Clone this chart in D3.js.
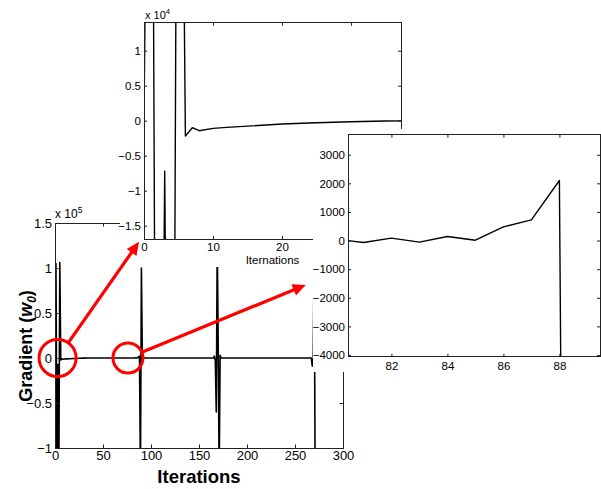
<!DOCTYPE html>
<html>
<head>
<meta charset="utf-8">
<script src="https://cdn.jsdelivr.net/npm/d3@7"></script>
<style>
body { margin: 0; background: #fff; }
svg { display: block; font-family: "Liberation Sans", Arial, Helvetica, sans-serif; }
</style>
</head>
<body>
<svg id="chart" width="601" height="489"></svg>
<script>
// gradient of w0 per iteration
const iterations = [0, 1, 2, 3, 4, 5, 6, 7, 8, 10, 12, 15, 20, 25, 30, 35, 40, 60, 80,
    81, 82, 83, 84, 85, 86, 87, 88, 89, 90, 91, 92, 93, 120, 150,
    165, 166, 167, 168, 169, 170, 171, 172, 173, 200, 240,
    267, 268, 269, 270, 271];
const gradient = [0, 105000, -128000, -7200, -130000, 106000, -2200, -1000, -1430, -1100, -950, -780, -480, -300, -150, -50, 0, 30, 50,
    -70, 84, -56, 140, 12, 480, 724, 2100, -130000, 100000, -2000, 500, 0, 0, 0,
    0, 2000, -3000, -60000, 130000, 15000, -130000, 3000, 0, 0, 0,
    0, -9000, 0, 120000, -140000];

const mainXTicks = [0, 50, 100, 150, 200, 250, 300];
const mainYTicks = [-1e5, -0.5e5, 0, 0.5e5, 1e5, 1.5e5];
const zoomAXTicks = [0, 10, 20, 30];
const zoomAYTicks = [-1.5e4, -1e4, -0.5e4, 0, 0.5e4, 1e4];
const zoomBXTicks = [82, 84, 86, 88];
const zoomBYTicks = [-4000, -3000, -2000, -1000, 0, 1000, 2000, 3000];

const points = iterations.map((t, i) => [t, gradient[i]]);

const svg = d3.select("#chart");
svg.append("rect").attr("width", 601).attr("height", 489).attr("fill", "#fff");

function panel(o) {
    const g = svg.append("g");
    if (o.cover) {
        g.append("rect")
            .attr("x", o.cover[0]).attr("y", o.cover[1])
            .attr("width", o.cover[2]).attr("height", o.cover[3])
            .attr("fill", "#fff");
    }
    const x = d3.scaleLinear().domain(o.xDomain).range([o.box.left, o.box.right]);
    const y = d3.scaleLinear().domain(o.yDomain).range([o.box.bottom, o.box.top]);

    g.append("clipPath").attr("id", o.id).append("rect")
        .attr("x", o.box.left).attr("y", o.box.top)
        .attr("width", o.box.right - o.box.left).attr("height", o.box.bottom - o.box.top);

    g.append("path")
        .datum(points)
        .attr("clip-path", "url(#" + o.id + ")")
        .attr("fill", "none")
        .attr("stroke", "#000")
        .attr("stroke-width", o.lineWidth)
        .attr("stroke-linejoin", "round")
        .attr("d", d3.line().x(d => x(d[0])).y(d => y(d[1])));

    const addAxis = (axis, tr) => g.append("g")
        .attr("transform", tr)
        .call(axis)
        .attr("font-family", null)
        .attr("font-size", o.fontSize)
        .call(s => s.select(".domain").remove())
        .call(s => s.selectAll("line").attr("stroke", "#222"))
        .call(s => s.selectAll("text").attr("fill", "#000"));

    addAxis(d3.axisBottom(x).tickValues(o.xTicks).tickSize(-o.tick).tickPadding(o.xPad),
        "translate(0," + o.box.bottom + ")");
    addAxis(d3.axisTop(x).tickValues(o.xTicks).tickSize(-o.tick).tickFormat(""),
        "translate(0," + o.box.top + ")");
    addAxis(d3.axisLeft(y).tickValues(o.yTicks).tickSize(-o.tick).tickPadding(o.yPad).tickFormat(o.yFormat),
        "translate(" + o.box.left + ",0)");
    addAxis(d3.axisRight(y).tickValues(o.yTicks).tickSize(-o.tick).tickFormat(""),
        "translate(" + o.box.right + ",0)");

    g.append("rect")
        .attr("x", o.box.left).attr("y", o.box.top)
        .attr("width", o.box.right - o.box.left).attr("height", o.box.bottom - o.box.top)
        .attr("fill", "none").attr("stroke", "#222").attr("stroke-width", 1)
        .attr("shape-rendering", "crispEdges");
    return {g, x, y};
}

function exponent(g, px, py, size, power) {
    const t = g.append("text").attr("x", px).attr("y", py).attr("font-size", size);
    t.append("tspan").text("x 10");
    t.append("tspan").attr("dy", -size * 0.45).attr("font-size", size * 0.7).text(power);
}

// main plot
const main = panel({
    id: "clip-main",
    box: {left: 55, right: 343, top: 223, bottom: 448},
    xDomain: [0, 300], yDomain: [-1e5, 1.5e5],
    xTicks: mainXTicks, yTicks: mainYTicks,
    yFormat: v => d3.format("~g")(v / 1e5),
    fontSize: 13, tick: 3.5, xPad: 3, yPad: 3, lineWidth: 1.6
});
exponent(main.g, 55, 218, 12, "5");
main.g.append("text")
    .attr("x", 199).attr("y", 483)
    .attr("text-anchor", "middle")
    .attr("font-size", 18.5).attr("font-weight", "bold")
    .text("Iterations");
const ylab = main.g.append("text")
    .attr("transform", "translate(32,346) rotate(-90)")
    .attr("text-anchor", "middle")
    .attr("font-size", 18).attr("font-weight", "bold");
ylab.append("tspan").text("Gradient (");
ylab.append("tspan").attr("font-style", "italic").text("w");
ylab.append("tspan").attr("font-style", "italic").attr("font-size", 12).attr("dy", 4).text("0");
ylab.append("tspan").attr("dy", -4).text(")");

// first zoom: iterations 0..37
const zoomA = panel({
    id: "clip-a",
    cover: [120, 0, 292, 267],
    box: {left: 144, right: 401, top: 22.7, bottom: 239},
    xDomain: [0, 37.25], yDomain: [-1.69e4, 1.4e4],
    xTicks: zoomAXTicks, yTicks: zoomAYTicks,
    yFormat: v => d3.format("~g")(v / 1e4),
    fontSize: 11.5, tick: 3, xPad: 4, yPad: 3, lineWidth: 1.4
});
exponent(zoomA.g, 145, 19, 11, "4");
zoomA.g.append("text")
    .attr("x", 272.5).attr("y", 264)
    .attr("text-anchor", "middle")
    .attr("font-size", 11.5)
    .text("Iternations");

// second zoom: iterations 80..89
const zoomB = panel({
    id: "clip-b",
    cover: [313, 129, 288, 243],
    box: {left: 348, right: 600, top: 134.7, bottom: 356.7},
    xDomain: [80.45, 89.45], yDomain: [-4060, 3700],
    xTicks: zoomBXTicks, yTicks: zoomBYTicks,
    yFormat: d3.format("d"),
    fontSize: 11.5, tick: 3, xPad: 5, yPad: 3, lineWidth: 1.4
});

// red highlights: circle around a region in the main plot, arrow to its zoom
const highlightIters = [2.7, 76];
const highlightRadii = [18.5, 15];
const arrowTargets = [[zoomA, -0.72, -17300], [zoomB, 78.94, -1550]];

const red = "#ff0000";
const ann = svg.append("g");
highlightIters.forEach((it, i) => {
    const cx = main.x(it), cy = main.y(0), r = highlightRadii[i];
    ann.append("circle").attr("cx", cx).attr("cy", cy).attr("r", r)
        .attr("fill", "none").attr("stroke", red).attr("stroke-width", 3);
    const [p, tx0, ty0] = arrowTargets[i];
    const tx = p.x(tx0), ty = p.y(ty0);
    const dx = tx - cx, dy = ty - cy, len = Math.hypot(dx, dy);
    const ux = dx / len, uy = dy / len;
    const sx = cx + ux * r, sy = cy + uy * r;
    const head = 13, hw = 6;
    const bx = tx - ux * head, by = ty - uy * head;
    ann.append("line")
        .attr("x1", sx).attr("y1", sy).attr("x2", bx + ux).attr("y2", by + uy)
        .attr("stroke", red).attr("stroke-width", 3.2);
    ann.append("path")
        .attr("d", d3.line()([[tx, ty], [bx - uy * hw, by + ux * hw], [bx + uy * hw, by - ux * hw]]) + "Z")
        .attr("fill", red);
});
</script>
</body>
</html>
